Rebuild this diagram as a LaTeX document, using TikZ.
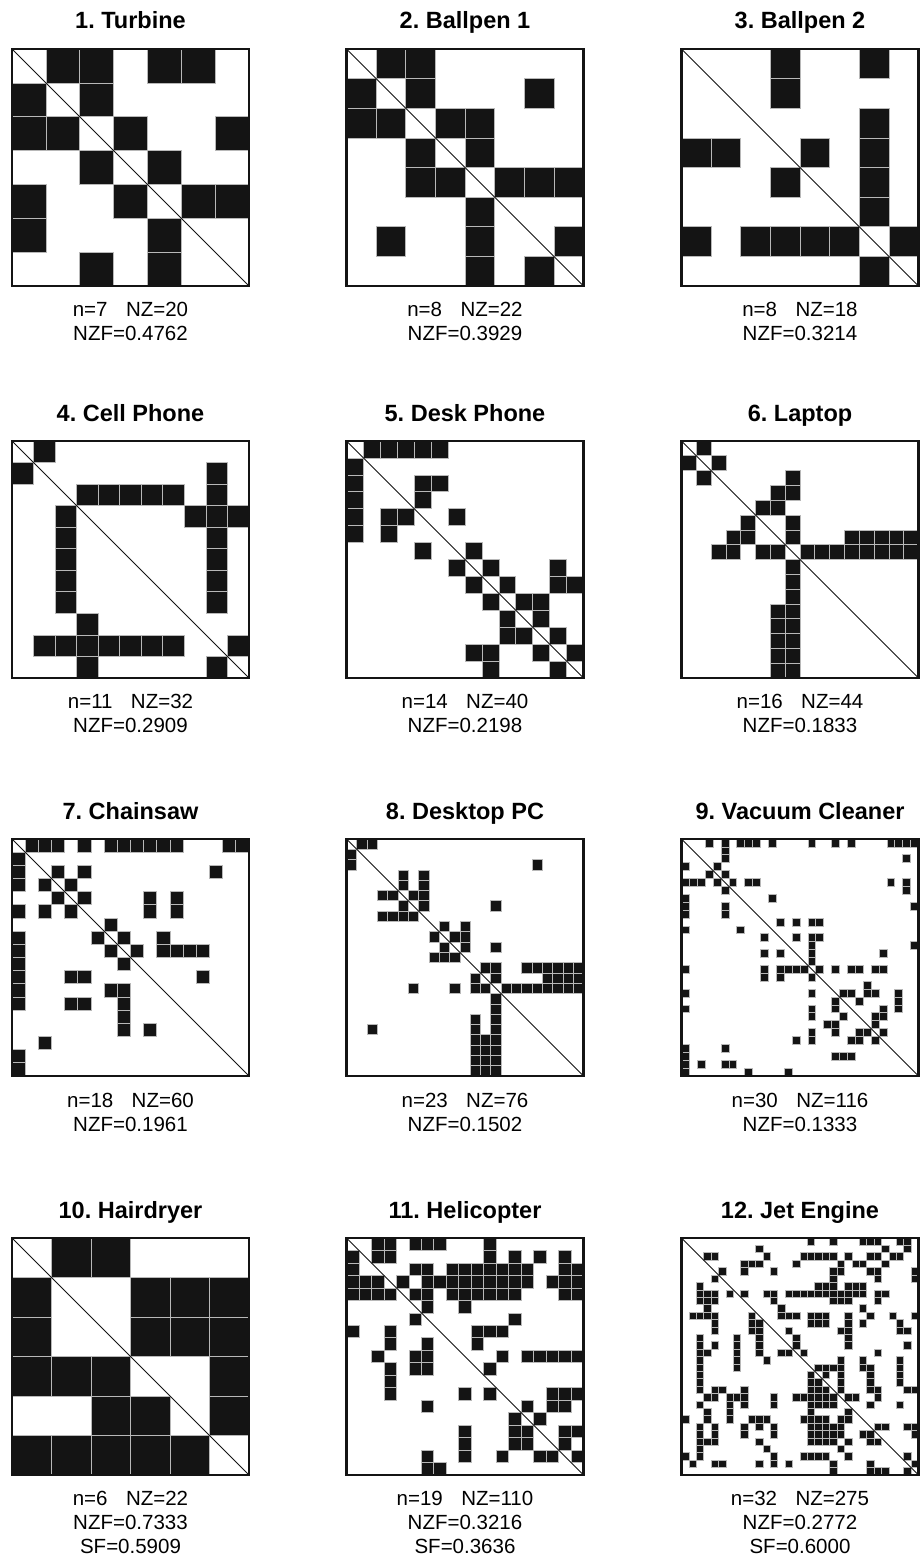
\documentclass[tikz,border=0pt]{standalone}
\usepackage{fontspec}
\setmainfont{Liberation Sans}
\tikzset{
 dsmcell/.style={fill=black!92, draw=black!28, line width=0.7pt},
 dsmframe/.style={draw=black!92, line width=2.2pt},
 dsmdiag/.style={draw=black!92, line width=0.9pt},
 ttl/.style={anchor=base, font=\fontsize{23.5}{28}\selectfont\bfseries\frenchspacing, inner sep=0pt},
 info/.style={anchor=base, font=\fontsize{20.5}{24}\selectfont, inner sep=0pt},
}
\newcommand{\dsmat}[4]{%
 \pgfmathsetmacro{\cellsz}{237/#3}%
 \foreach \rr/\collist in {#4} {%
   \foreach \cc in \collist {%
     \filldraw[dsmcell] ({#1+\cc*\cellsz},{#2+\rr*\cellsz}) rectangle ++(\cellsz,\cellsz);
   }%
 }%
 \draw[dsmdiag] (#1,#2) -- ++(237,237);
 \draw[dsmframe] (#1,#2) rectangle ++(237,237);
}
\newcommand{\gp}{\hspace{0.9em}}
\begin{document}
\frenchspacing
\begin{tikzpicture}[x=1pt,y=-1pt]
\useasboundingbox[fill=white] (0,0) rectangle (920,1560);
% Row 1
\dsmat{12}{49}{7}{0/{1,2,4,5},1/{0,2},2/{0,1,3,6},3/{2,4},4/{0,3,5,6},5/{0,4},6/{2,4}}
\dsmat{346.5}{49}{8}{0/{1,2},1/{0,2,6},2/{0,1,3,4},3/{2,4},4/{2,3,5,6,7},5/{4},6/{1,4,7},7/{4,6}}
\dsmat{681.5}{49}{8}{0/{3,6},1/{3},2/{6},3/{0,1,4,6},4/{3,6},5/{6},6/{0,2,3,4,5,7},7/{6}}
\node[ttl] (t1) at (130.5,29) {1. Turbine};
\node[ttl] (t2) at (465,29) {2. Ballpen 1};
\node[ttl] (t3) at (800,29) {3. Ballpen 2};
\node[info] (a1) at (130.5,316) {n=7\gp NZ=20};
\node[info] (b1) at (130.5,340) {NZF=0.4762};
\node[info] (a2) at (465,316) {n=8\gp NZ=22};
\node[info] (b2) at (465,340) {NZF=0.3929};
\node[info] (a3) at (800,316) {n=8\gp NZ=18};
\node[info] (b3) at (800,340) {NZF=0.3214};
% Row 2
\dsmat{12}{441}{11}{0/{1},1/{0,9},2/{3,4,5,6,7,9},3/{2,8,9,10},4/{2,9},5/{2,9},6/{2,9},7/{2,9},8/{3},9/{1,2,3,4,5,6,7,10},10/{3,9}}
\dsmat{346.5}{441}{14}{0/{1,2,3,4,5},1/{0},2/{0,4,5},3/{0,4},4/{0,2,3,6},5/{0,2},6/{4,7},7/{6,8,12},8/{7,9,12,13},9/{8,10,11},10/{9,11},11/{9,10,12},12/{7,8,11,13},13/{8,12}}
\dsmat{681.5}{441}{16}{0/{1},1/{0,2},2/{1,7},3/{6,7},4/{5,6},5/{4,7},6/{3,4,7,11,12,13,14,15},7/{2,3,5,6,8,9,10,11,12,13,14,15},8/{7},9/{7},10/{7},11/{6,7},12/{6,7},13/{6,7},14/{6,7},15/{6,7}}
\node[ttl] (t4) at (130.5,421) {4. Cell Phone};
\node[ttl] (t5) at (465,421) {5. Desk Phone};
\node[ttl] (t6) at (800,421) {6. Laptop};
\node[info] (a4) at (130.5,708) {n=11\gp NZ=32};
\node[info] (b4) at (130.5,732) {NZF=0.2909};
\node[info] (a5) at (465,708) {n=14\gp NZ=40};
\node[info] (b5) at (465,732) {NZF=0.2198};
\node[info] (a6) at (800,708) {n=16\gp NZ=44};
\node[info] (b6) at (800,732) {NZF=0.1833};
% Row 3
\dsmat{12}{839}{18}{0/{1,2,3,5,7,8,9,10,11,12,16,17},1/{0},2/{0,3,5,15},3/{0,2,4},4/{3,5,10,12},5/{0,2,4,10,12},6/{7},7/{0,6,8,11},8/{0,7,9,11,12,13,14},9/{0,8},10/{0,4,5,14},11/{0,7,8},12/{0,4,5,8},13/{8},14/{8,10},15/{2},16/{0},17/{0}}
\dsmat{346.5}{839}{23}{0/{1,2},1/{0},2/{0,18},3/{5,7},4/{5,7},5/{3,4,6,7},6/{5,7,14},7/{3,4,5,6},8/{9,11},9/{8,10,11},10/{9,11,14},11/{8,9,10},12/{13,14,17,18,19,20,21,22},13/{12,14,19,20,21,22},14/{6,10,12,13,15,16,17,18,19,20,21,22},15/{14},16/{14},17/{12,14},18/{2,12,14},19/{12,13,14},20/{12,13,14},21/{12,13,14},22/{12,13,14}}
\dsmat{681.5}{839}{30}{0/{3,5,7,8,9,11,16,19,21,26,27,28,29},1/{5},2/{5,28},3/{0,4},4/{3,5},5/{0,1,2,4,6,8,9,26,28},6/{5,28},7/{0,11},8/{0,5,29},9/{0,5},10/{12,14,16,17},11/{0,7},12/{10,14,16,17},13/{16,29},14/{10,12,16,25},15/{16},16/{0,10,12,13,14,15,17,19,21,22,24,25},17/{10,12,16},18/{23},19/{0,16,20,21,23,24,27},20/{19,22,27},21/{0,16,19,25,27},22/{16,20,24,25},23/{18,19,24},24/{16,19,22,23,25},25/{14,16,21,22,24},26/{0,5},27/{0,19,20,21},28/{0,2,5,6},29/{0,8,13}}
\node[ttl] (t7) at (130.5,819) {7. Chainsaw};
\node[ttl] (t8) at (465,819) {8. Desktop PC};
\node[ttl] (t9) at (800,819) {9. Vacuum Cleaner};
\node[info] (a7) at (130.5,1107) {n=18\gp NZ=60};
\node[info] (b7) at (130.5,1131) {NZF=0.1961};
\node[info] (a8) at (465,1107) {n=23\gp NZ=76};
\node[info] (b8) at (465,1131) {NZF=0.1502};
\node[info] (a9) at (800,1107) {n=30\gp NZ=116};
\node[info] (b9) at (800,1131) {NZF=0.1333};
% Row 4
\dsmat{12}{1238}{6}{0/{1,2},1/{0,3,4,5},2/{0,3,4,5},3/{0,1,2,5},4/{2,3,5},5/{0,1,2,3,4}}
\dsmat{346.5}{1238}{19}{0/{2,3,5,6,7,11},1/{0,2,3,11,13,15,17},2/{0,5,6,8,9,10,11,12,13,14,17,18},3/{0,1,2,4,6,7,8,9,10,11,12,13,14,16,17,18},4/{0,1,2,3,5,6,8,9,10,11,12,13,17,18},5/{6,9},6/{5,13},7/{0,3,10,11,12},8/{3,6,10},9/{2,5,6,12,14,15,16,17,18},10/{3,5,6,11},11/{3},12/{3,9,11,16,17,18},13/{6,14,16,17},14/{13,15},15/{9,13,14,17,18},16/{9,13,14,17},17/{6,9,12,15,16,18},18/{6,7}}
\dsmat{681.5}{1238}{32}{0/{17,20,24,25,26,29,30},1/{10,27,30},2/{3,4,11,16,17,18,19,20,22,25,26,28,29},3/{8,9,10,15,21,23,24,27},4/{5,8,12,20,21,25,26,31},5/{4,20,26,31},6/{2,18,19,20,22,23,24},7/{2,3,4,6,8,11,12,14,15,16,17,18,19,20,21,22,23,24,26,27},8/{2,3,4,12,20,21,22,26},9/{3,13,24},10/{1,2,3,4,9,13,14,15,17,18,19,22,25,28,31},11/{4,9,10,17,18,19,22,24,29},12/{4,9,10,14,21,22,29,30},13/{2,7,10,15,22},14/{2,4,7,10,15,22,30},15/{2,3,7,10,13,14,16,26},16/{2,7,11,21,24,29},17/{2,7,18,19,20,21,24,25,29},18/{2,17,19,21,25,29},19/{2,17,18,21,25,29},20/{2,4,5,8,17,18,19,21,25,26,30,31},21/{3,4,6,7,8,12,15,16,17,18,19,20,22,23,26},22/{2,6,8,12,17,18,19,20,25,29},23/{3,6,17,22},24/{0,3,6,9,10,11,16,17,18,19,21,22},25/{2,4,8,10,12,17,18,19,20,21,26,27,30,31},26/{2,4,8,12,17,18,19,20,21,24,25,31},27/{2,3,4,10,17,18,19,20,22,25,26},28/{2,11,21},29/{0,2,12,16,17,18,19,22,30},30/{1,4,5,10,12,14,20,25,31},31/{20,25,26,27,30}}
\node[ttl] (t10) at (130.5,1218) {10. Hairdryer};
\node[ttl] (t11) at (465,1218) {11. Helicopter};
\node[ttl] (t12) at (800,1218) {12. Jet Engine};
\node[info] (a10) at (130.5,1505) {n=6\gp NZ=22};
\node[info] (b10) at (130.5,1529) {NZF=0.7333};
\node[info] (c10) at (130.5,1553) {SF=0.5909};
\node[info] (a11) at (465,1505) {n=19\gp NZ=110};
\node[info] (b11) at (465,1529) {NZF=0.3216};
\node[info] (c11) at (465,1553) {SF=0.3636};
\node[info] (a12) at (800,1505) {n=32\gp NZ=275};
\node[info] (b12) at (800,1529) {NZF=0.2772};
\node[info] (c12) at (800,1553) {SF=0.6000};
\end{tikzpicture}
\end{document}
